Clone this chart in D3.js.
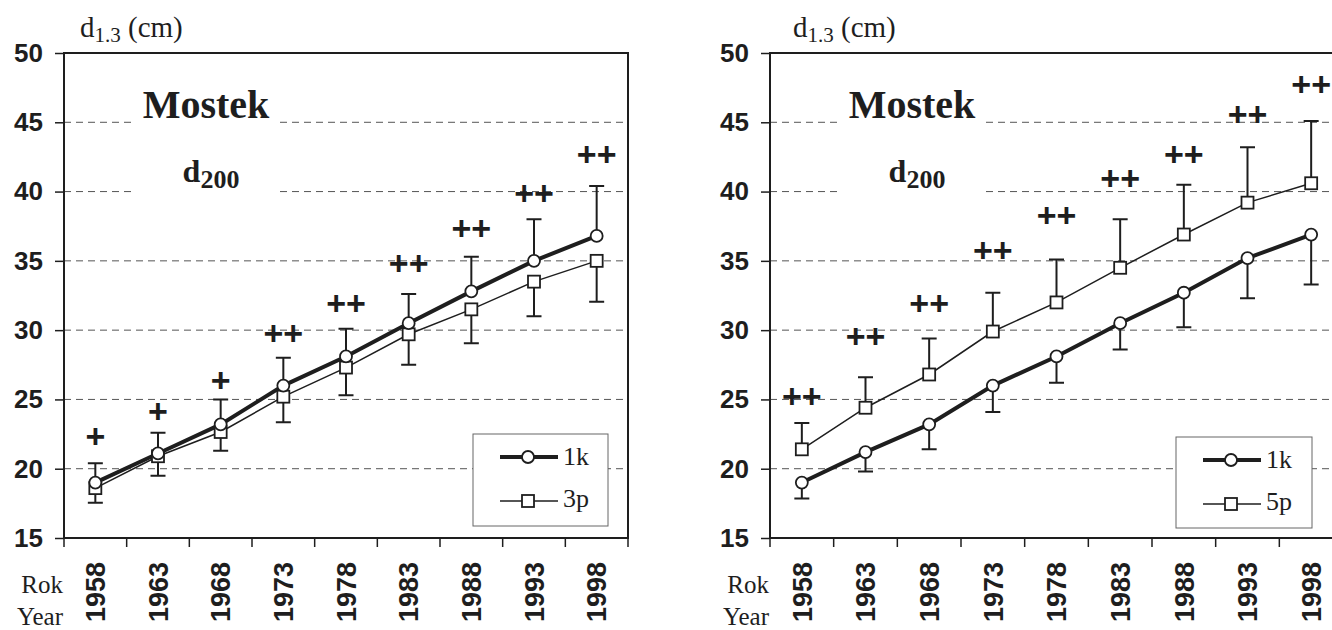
<!DOCTYPE html>
<html>
<head>
<meta charset="utf-8">
<script src="https://cdn.jsdelivr.net/npm/d3@7"></script>
<style>
  body { margin: 0; background: #fff; }
  svg { display: block; }
</style>
</head>
<body>
<div id="chart"></div>
<script>
// ---- data ----
var years = ["1958", "1963", "1968", "1973", "1978", "1983", "1988", "1993", "1998"];
var yTicks = [15, 20, 25, 30, 35, 40, 45, 50];
var gridTicks = [20, 25, 30, 35, 40, 45];

// left panel: 1k vs 3p
var left1k      = [19.0, 21.1, 23.2, 26.0, 28.1, 30.5, 32.8, 35.0, 36.8];
var left3p      = [18.6, 20.9, 22.65, 25.2, 27.3, 29.7, 31.5, 33.5, 35.0];
var left1kUpper = [20.4, 22.6, 25.0, 28.0, 30.1, 32.6, 35.3, 38.0, 40.4];
var left3pLower = [17.55, 19.5, 21.3, 23.35, 25.3, 27.5, 29.05, 31.0, 32.05];
var leftSig     = ["+", "+", "+", "++", "++", "++", "++", "++", "++"];
var leftSigY    = [22.35, 24.2, 26.4, 29.8, 32.0, 34.85, 37.4, 39.9, 42.7];

// right panel: 1k vs 5p
var right1k      = [19.0, 21.2, 23.2, 26.0, 28.1, 30.5, 32.7, 35.2, 36.9];
var right5p      = [21.4, 24.4, 26.8, 29.9, 32.0, 34.5, 36.9, 39.2, 40.6];
var right5pUpper = [23.3, 26.6, 29.4, 32.7, 35.1, 38.0, 40.5, 43.2, 45.1];
var right1kLower = [17.85, 19.8, 21.4, 24.1, 26.2, 28.6, 30.2, 32.3, 33.3];
var rightSig     = ["++", "++", "++", "++", "++", "++", "++", "++", "++"];
var rightSigY    = [25.3, 29.6, 32.0, 35.8, 38.3, 41.0, 42.7, 45.6, 47.8];

var SERIF = "Liberation Serif";
var SANS = "Liberation Sans";
var INK = "#1e1e1e";

var svg = d3.select("#chart")
  .append("svg")
    .attr("width", 1332)
    .attr("height", 630);

svg.append("rect").attr("width", 1332).attr("height", 630).attr("fill", "#fff");

var y = d3.scaleLinear().domain([15, 50]).range([538, 53]);

var panels = [
  { x0: 64, x1: 628, titleDx: 16,
    thick: left1k, thin: left3p, thinName: "3p",
    upper: left1kUpper, upperFrom: left1k,
    lower: left3pLower, lowerFrom: left3p,
    sig: leftSig, sigY: leftSigY,
    legend: { x: 473, y: 434, w: 135, h: 92 } },
  { x0: 770, x1: 1343, titleDx: 23,
    thick: right1k, thin: right5p, thinName: "5p",
    upper: right5pUpper, upperFrom: right5p,
    lower: right1kLower, lowerFrom: right1k,
    sig: rightSig, sigY: rightSigY,
    legend: { x: 1176, y: 437, w: 136, h: 91 } }
];

panels.forEach(drawPanel);

function font(sel, family, size, bold) {
  sel.attr("font-family", family)
    .style("font-family", family)
    .attr("font-size", size)
    .style("font-size", size + "px")
    .attr("font-weight", bold ? "bold" : "normal")
    .style("font-weight", bold ? "bold" : "normal")
    .attr("fill", INK);
  return sel;
}

function drawPanel(p) {
  var x = d3.scaleBand().domain(years).range([p.x0, p.x1]);
  var cx = function(d, i) { return x(years[i]) + x.bandwidth() / 2; };
  var g = svg.append("g");

  // dashed grid
  g.selectAll(".grid")
    .data(gridTicks)
    .enter()
    .append("line")
      .attr("x1", p.x0).attr("x2", p.x1)
      .attr("y1", function(d) { return y(d); })
      .attr("y2", function(d) { return y(d); })
      .attr("stroke", "#555")
      .attr("stroke-width", 1)
      .attr("stroke-dasharray", "7,5");

  // white patch behind the title
  g.append("rect")
    .attr("x", p.x0 + 68).attr("y", 62)
    .attr("width", 148).attr("height", 136)
    .attr("fill", "#fff");

  font(g.append("text"), SERIF, 40, true)
    .attr("x", p.x0 + 142).attr("y", 118)
    .attr("text-anchor", "middle")
    .text("Mostek");

  var d200 = font(g.append("text"), SERIF, 32, true)
    .attr("x", p.x0 + 147).attr("y", 182)
    .attr("text-anchor", "middle");
  d200.append("tspan").text("d");
  d200.append("tspan").attr("dy", 6).style("font-size", "26px").text("200");

  // y axis
  var yAxis = g.append("g")
    .attr("transform", "translate(" + p.x0 + ",0)")
    .call(d3.axisLeft(y).tickValues(yTicks).tickSize(9).tickSizeOuter(0).tickPadding(12));
  yAxis.select(".domain").remove();
  yAxis.selectAll("line").attr("stroke", INK).attr("stroke-width", 1.5);
  font(yAxis.selectAll("text"), SANS, 26, true);

  // x axis labels
  var xAxis = g.append("g")
    .attr("transform", "translate(0,538)")
    .call(d3.axisBottom(x).tickSize(0).tickSizeOuter(0));
  xAxis.select(".domain").remove();
  font(xAxis.selectAll("text"), SANS, 27, true)
    .attr("transform", "rotate(-90)")
    .attr("x", -24).attr("y", 0).attr("dy", "0.36em")
    .attr("text-anchor", "end");

  // x tick marks at the band edges
  var edges = years.map(function(d) { return x(d); }).concat([p.x1]);
  g.selectAll(".xtick")
    .data(edges)
    .enter()
    .append("line")
      .attr("x1", function(d) { return d; }).attr("x2", function(d) { return d; })
      .attr("y1", 538).attr("y2", 547)
      .attr("stroke", INK).attr("stroke-width", 1.5);

  // frame
  g.append("path")
    .attr("d", "M" + p.x0 + "," + y(50) + "H" + p.x1 + "V" + y(15) + "H" + p.x0 + "Z")
    .attr("fill", "none").attr("stroke", INK).attr("stroke-width", 2);

  // axis captions
  var cap = font(g.append("text"), SERIF, 29, false)
    .attr("x", p.x0 + p.titleDx).attr("y", 37);
  cap.append("tspan").text("d");
  cap.append("tspan").attr("dy", 5).style("font-size", "21px").text("1.3");
  cap.append("tspan").attr("dy", -5).text(" (cm)");

  font(g.append("text"), SERIF, 25, false)
    .attr("x", p.x0 - 1).attr("y", 593)
    .attr("text-anchor", "end")
    .text("Rok");
  font(g.append("text"), SERIF, 25, false)
    .attr("x", p.x0 - 1).attr("y", 625)
    .attr("text-anchor", "end")
    .text("Year");

  // error bars
  var bars = [
    { end: p.upper, from: p.upperFrom },
    { end: p.lower, from: p.lowerFrom }
  ];
  bars.forEach(function(b) {
    g.selectAll(null)
      .data(b.end)
      .enter()
      .append("path")
        .attr("d", function(d, i) {
          var xx = cx(d, i);
          return "M" + xx + "," + y(b.from[i]) + "V" + y(d) +
                 "M" + (xx - 7.5) + "," + y(d) + "H" + (xx + 7.5);
        })
        .attr("fill", "none").attr("stroke", INK).attr("stroke-width", 2);
  });

  // lines
  var line = d3.line()
    .x(function(d, i) { return cx(d, i); })
    .y(function(d) { return y(d); });

  g.append("path")
    .datum(p.thin)
    .attr("d", line)
    .attr("fill", "none").attr("stroke", INK).attr("stroke-width", 1.5);

  g.append("path")
    .datum(p.thick)
    .attr("d", line)
    .attr("fill", "none").attr("stroke", INK).attr("stroke-width", 4);

  // markers
  g.selectAll(null)
    .data(p.thin)
    .enter()
    .append("rect")
      .attr("x", function(d, i) { return cx(d, i) - 6; })
      .attr("y", function(d) { return y(d) - 6; })
      .attr("width", 12).attr("height", 12)
      .attr("fill", "#fff").attr("stroke", INK).attr("stroke-width", 1.8);

  g.selectAll(null)
    .data(p.thick)
    .enter()
    .append("circle")
      .attr("cx", function(d, i) { return cx(d, i); })
      .attr("cy", function(d) { return y(d); })
      .attr("r", 6)
      .attr("fill", "#fff").attr("stroke", INK).attr("stroke-width", 1.8);

  // significance marks
  font(g.selectAll(null)
    .data(p.sig)
    .enter()
    .append("text"), SANS, 34, true)
      .attr("x", function(d, i) { return cx(d, i); })
      .attr("y", function(d, i) { return y(p.sigY[i]); })
      .attr("dy", "0.36em")
      .attr("text-anchor", "middle")
      .text(function(d) { return d; });

  // legend
  var L = p.legend;
  var lg = g.append("g").attr("transform", "translate(" + L.x + "," + L.y + ")");
  lg.append("rect")
    .attr("width", L.w).attr("height", L.h)
    .attr("fill", "#fff").attr("stroke", "#666").attr("stroke-width", 1);

  var items = [
    { name: "1k", w: 4, shape: "circle", ly: 23, ty: 31 },
    { name: p.thinName, w: 1.5, shape: "square", ly: 67, ty: 73 }
  ];
  items.forEach(function(it) {
    lg.append("line")
      .attr("x1", 27).attr("x2", 85)
      .attr("y1", it.ly).attr("y2", it.ly)
      .attr("stroke", INK).attr("stroke-width", it.w);
    if (it.shape === "circle") {
      lg.append("circle")
        .attr("cx", 55).attr("cy", it.ly).attr("r", 6)
        .attr("fill", "#fff").attr("stroke", INK).attr("stroke-width", 1.8);
    } else {
      lg.append("rect")
        .attr("x", 49).attr("y", it.ly - 6).attr("width", 12).attr("height", 12)
        .attr("fill", "#fff").attr("stroke", INK).attr("stroke-width", 1.8);
    }
    font(lg.append("text"), SERIF, 26, false)
      .attr("x", 90).attr("y", it.ty)
      .text(it.name);
  });
}
</script>
</body>
</html>
